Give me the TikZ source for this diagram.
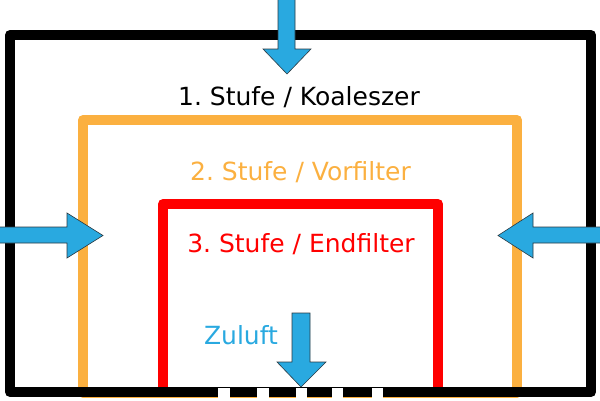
\documentclass[tikz,border=0pt]{standalone}
\usepackage{fontspec}
\setmainfont{DejaVu Sans}
\definecolor{cblue}{HTML}{29A9E0}
\definecolor{corange}{HTML}{FBB040}
\definecolor{cred}{HTML}{FF0000}
\definecolor{coutline}{HTML}{2B3A42}
\begin{document}
\frenchspacing
\begin{tikzpicture}[x=1pt,y=-1pt,
  frame/.style={line width=10pt,line join=round},
  arrowshape/.style={fill=cblue,draw=coutline,line width=0.6pt,line join=miter},
  lbl/.style={font=\fontsize{25}{28}\selectfont,anchor=base,inner sep=0pt}]
\useasboundingbox (0,0) rectangle (600,400);
% frames
\draw[frame,corange] (83,393) -- (83,120) -- (517,120) -- (517,393) -- cycle;
\draw[frame,cred] (163,387) -- (163,204) -- (438,204) -- (438,387);
\draw[frame,black] (10,392) -- (10,35) -- (591,35) -- (591,392) -- cycle;
% gaps in the bottom
\foreach \a/\b in {218/230,257/269,296/307,332/343,372/383}
  \fill[white] (\a,387.5) rectangle (\b,400);
% arrows
\draw[arrowshape] (278,-2) -- (295,-2) -- (295,49) -- (311,49) -- (287,74) -- (263,49) -- (278,49) -- cycle;
\draw[arrowshape] (-2,227) -- (67,227) -- (67,213) -- (103,235.5) -- (67,258) -- (67,243) -- (-2,243) -- cycle;
\draw[arrowshape] (602,227) -- (533,227) -- (533,213) -- (498,235.5) -- (533,258) -- (533,243) -- (602,243) -- cycle;
\draw[arrowshape] (292,313) -- (310,313) -- (310,362) -- (326,362) -- (301,387) -- (277,362) -- (292,362) -- cycle;
% labels
\node[lbl,text=black] (s1) at (299,105) {1. Stufe / Koaleszer};
\node[lbl,text=corange] (s2) at (300.5,180) {2. Stufe / Vorfilter};
\node[lbl,text=cred] (s3) at (301,252) {3. Stufe / Endfilter};
\node[lbl,text=cblue] (zu) at (241,344) {Zuluft};
\end{tikzpicture}
\end{document}
